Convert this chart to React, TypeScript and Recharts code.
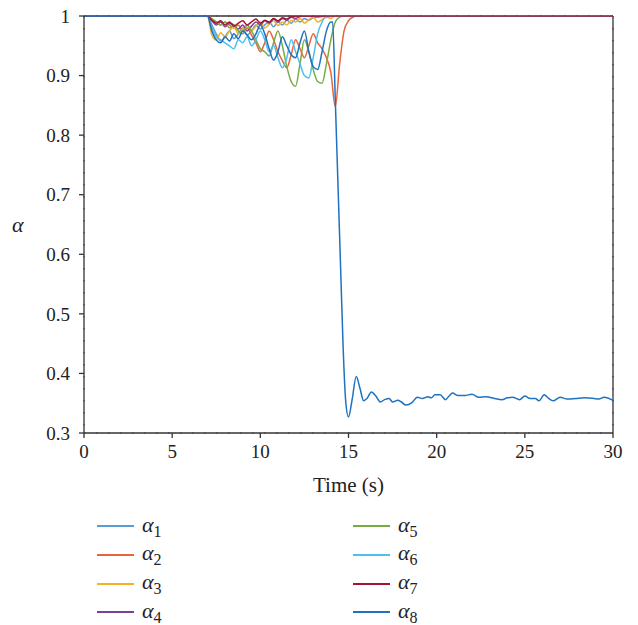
import React from 'react';
import { LineChart, Line, XAxis, YAxis, CartesianGrid, ReferenceLine } from 'recharts';

// shared time grid for the oscillation phase (s)
const T_OSC = [
  7, 7.25, 7.5, 7.75, 8, 8.25, 8.5, 8.75, 9, 9.25, 9.5, 9.75, 10, 10.25, 10.5, 10.75, 11, 11.25,
  11.5, 11.75, 12, 12.25, 12.5, 12.75, 13, 13.25, 13.5, 13.75, 14, 14.25, 14.5, 14.75, 15, 15.25, 15.5,
];

const A1 = [1, 0.985, 0.97, 0.958, 0.965, 0.975, 0.962, 0.97, 0.98, 0.968, 0.975, 0.985, 0.978, 0.985, 0.99, 0.982, 0.99, 0.985, 0.993, 0.988, 0.995, 0.99, 0.996, 0.993, 0.997, 0.998, 0.999, 1];
const A2 = [1, 0.995, 0.99, 0.985, 0.99, 0.985, 0.98, 0.985, 0.975, 0.98, 0.968, 0.955, 0.94, 0.955, 0.975, 0.96, 0.94, 0.925, 0.913, 0.935, 0.96, 0.945, 0.93, 0.95, 0.97, 0.955, 0.945, 0.93, 0.905, 0.848, 0.92, 0.975, 0.992, 0.998, 1];
const A3 = [1, 0.968, 0.96, 0.972, 0.965, 0.975, 0.982, 0.97, 0.978, 0.985, 0.975, 0.983, 0.99, 0.98, 0.986, 0.992, 0.984, 0.99, 0.985, 0.993, 0.99, 0.996, 0.988, 0.994, 0.998, 0.99, 0.994, 0.998, 0.996, 1];
const A4 = [1, 0.992, 0.985, 0.99, 0.982, 0.988, 0.985, 0.978, 0.985, 0.975, 0.983, 0.99, 0.985, 0.992, 0.988, 0.995, 0.99, 0.996, 0.993, 0.998, 0.996, 0.999, 1];
const A5 = [1, 0.995, 0.99, 0.985, 0.99, 0.98, 0.985, 0.975, 0.97, 0.985, 0.975, 0.96, 0.945, 0.94, 0.933, 0.955, 0.975, 0.95, 0.915, 0.89, 0.882, 0.92, 0.96, 0.94, 0.91, 0.89, 0.887, 0.92, 0.96, 0.99, 0.998, 1];
const A6 = [1, 0.98, 0.965, 0.96, 0.955, 0.95, 0.945, 0.96, 0.955, 0.965, 0.95, 0.96, 0.975, 0.96, 0.94, 0.95, 0.93, 0.913, 0.93, 0.96, 0.94, 0.92, 0.9, 0.896, 0.93, 0.97, 0.99, 1];
const A7 = [1, 0.993, 0.988, 0.992, 0.985, 0.99, 0.983, 0.988, 0.992, 0.985, 0.99, 0.995, 0.988, 0.993, 0.99, 0.996, 0.992, 0.997, 0.995, 0.999, 1];
const A8 = [1, 0.975, 0.96, 0.955, 0.965, 0.958, 0.97, 0.962, 0.975, 0.968, 0.96, 0.97, 0.985, 0.97, 0.945, 0.926, 0.94, 0.965, 0.95, 0.935, 0.93, 0.955, 0.975, 0.94, 0.915, 0.91, 0.94, 0.975, 0.99];

// alpha_8 collapse and settling
const DROP_T = [
  14.1, 14.25, 14.4, 14.55, 14.7, 14.85, 15.0, 15.2, 15.44, 15.65, 15.86, 16.05, 16.3, 16.55, 16.8,
  17.05, 17.3, 17.5, 17.8, 18.0, 18.25, 18.6, 18.9, 19.2, 19.5, 19.7, 19.9, 20.2, 20.5, 20.7, 20.9,
  21.2, 21.6, 22.0, 22.4, 22.8, 23.3, 23.7, 24.0, 24.3, 24.7, 25.0, 25.3, 25.6, 25.8, 26.1, 26.35,
  26.6, 27.0, 27.4, 27.9, 28.4, 28.9, 29.2, 29.5, 30,
];
const DROP_V = [
  0.99, 0.86, 0.72, 0.58, 0.44, 0.35, 0.327, 0.355, 0.395, 0.375, 0.354, 0.358, 0.369, 0.362, 0.352,
  0.356, 0.358, 0.352, 0.355, 0.352, 0.347, 0.351, 0.36, 0.358, 0.361, 0.359, 0.364, 0.364, 0.356, 0.362, 0.367,
  0.363, 0.363, 0.365, 0.36, 0.361, 0.358, 0.356, 0.359, 0.36, 0.356, 0.362, 0.358, 0.358, 0.354, 0.364, 0.358,
  0.354, 0.36, 0.357, 0.358, 0.359, 0.358, 0.357, 0.36, 0.355,
];

const NAMES = ['1', '2', '3', '4', '5', '6', '7', '8'];
const COLORS = ['#5b9bd5', '#e8643c', '#f5b021', '#7e3f98', '#77ac43', '#4dbfef', '#a3142f', '#1f72c0'];
const X_TICKS = [0, 5, 10, 15, 20, 25, 30];
const Y_TICKS = [0.3, 0.4, 0.5, 0.6, 0.7, 0.8, 0.9, 1];

const withFlats = (vals: number[]) => [
  { t: 0, v: 1 },
  ...vals.map((v, i) => ({ t: T_OSC[i], v })),
  { t: 30, v: 1 },
];

const SERIES = [
  withFlats(A1), withFlats(A2), withFlats(A3), withFlats(A4),
  withFlats(A5), withFlats(A6), withFlats(A7),
  [
    { t: 0, v: 1 },
    ...A8.map((v, i) => ({ t: T_OSC[i], v })),
    ...DROP_T.map((t, i) => ({ t, v: DROP_V[i] })),
  ],
];

const FONT = "'Times New Roman', 'Liberation Serif', Times, 'DejaVu Serif', serif";
const tickStyle = { fontSize: 19, fontFamily: FONT, fill: '#222' };

const LegendItem = ({ i }: { i: number }) => (
  <div style={{ display: 'flex', alignItems: 'center', height: 28.7 }}>
    <div style={{ width: 37, height: 0, borderTop: `${i === 0 || i === 4 ? 2.6 : 2}px solid ${COLORS[i]}`, marginRight: 8 }} />
    <span style={{ fontFamily: FONT, fontSize: 22, fontStyle: 'italic', color: '#222' }}>
      α<sub style={{ fontStyle: 'normal', fontSize: 16 }}>{NAMES[i]}</sub>
    </span>
  </div>
);

export default function App() {
  return (
    <div style={{ position: 'absolute', left: 0, top: 0, width: 638, height: 625, background: '#fff', fontFamily: FONT }}>
      <LineChart width={638} height={500} margin={{ top: 16, right: 25, left: 0, bottom: 0 }} style={{ fontFamily: FONT }}>
        <CartesianGrid stroke="#555" strokeDasharray="1.5 10.5" strokeWidth={1.2} />
        <XAxis
          xAxisId="b"
          dataKey="t"
          type="number"
          domain={[0, 30]}
          ticks={X_TICKS}
          allowDataOverflow
          height={67}
          tickSize={5}
          tickMargin={7}
          stroke="#333"
          strokeWidth={1.3}
          tick={tickStyle}
          label={{ value: 'Time (s)', position: 'insideBottom', offset: 8, style: { fontSize: 21, fontFamily: FONT, fill: '#222' } }}
        />
        <YAxis
          yAxisId="l"
          type="number"
          domain={[0.3, 1]}
          ticks={Y_TICKS}
          allowDataOverflow
          width={84}
          tickSize={5}
          tickMargin={9}
          stroke="#333"
          strokeWidth={1.3}
          tick={tickStyle}
          tickFormatter={(v: number) => String(Math.round(v * 10) / 10)}
          label={{ value: 'α', position: 'insideLeft', offset: 12, style: { fontSize: 22, fontFamily: FONT, fontStyle: 'italic', fill: '#222' } }}
        />
        {/* frame on the right and top */}
        <ReferenceLine xAxisId="b" yAxisId="l" x={30} stroke="#333" strokeWidth={1.3} />
        <ReferenceLine xAxisId="b" yAxisId="l" y={1} stroke="#333" strokeWidth={1.3} />
        {SERIES.map((d, i) => (
          <Line
            key={i}
            xAxisId="b"
            yAxisId="l"
            data={d}
            dataKey="v"
            type="monotone"
            stroke={COLORS[i]}
            strokeWidth={1.5}
            dot={false}
            activeDot={false}
            isAnimationActive={false}
            name={`α${NAMES[i]}`}
          />
        ))}
      </LineChart>
      <div style={{ position: 'absolute', left: 97, top: 512, display: 'flex' }}>
        <div style={{ width: 256 }}>
          {[0, 1, 2, 3].map((i) => <LegendItem key={i} i={i} />)}
        </div>
        <div>
          {[4, 5, 6, 7].map((i) => <LegendItem key={i} i={i} />)}
        </div>
      </div>
    </div>
  );
}
